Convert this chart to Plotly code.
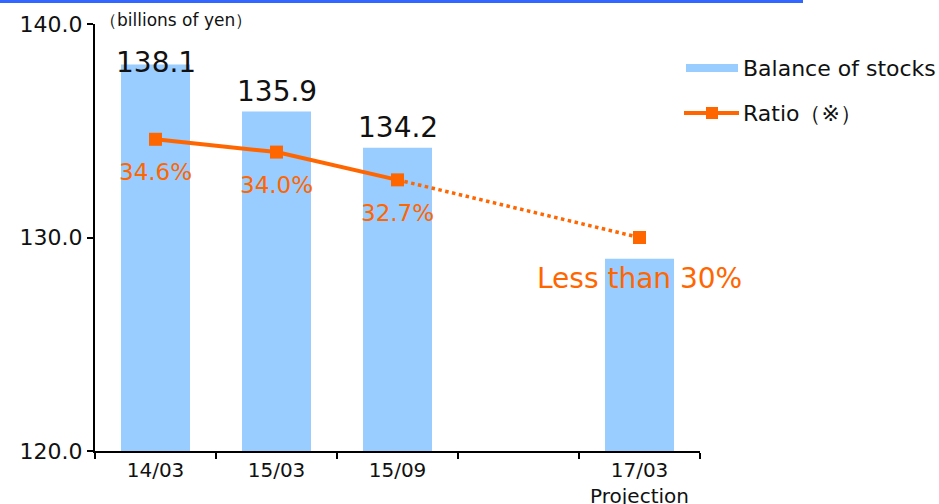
import plotly.graph_objects as go

categories = ["14/03", "15/03", "15/09", " ", "17/03<br>Projection"]
balance = [138.1, 135.9, 134.2, None, 129.0]
balance_labels = ["138.1", "135.9", "134.2", "", ""]
ratio_actual_cats = ["14/03", "15/03", "15/09"]
ratio_actual = [34.6, 34.0, 32.7]
ratio_actual_labels = ["34.6%", "34.0%", "32.7%"]
ratio_proj_cats = ["15/09", "17/03<br>Projection"]
ratio_proj = [32.7, 30.0]
proj_label = "Less than 30%"
legend_names = ["Balance of stocks", "Ratio（※）"]

FONT = "DejaVu Sans"
ORANGE = "#FF6600"
BLUE = "#99CCFF"
TXT = "#111111"

# plot geometry (pixels)
L, R, T, B = 95, 239, 24, 53
PW, PH = 939 - L - R, 504 - T - B
Y0, Y1 = 120, 140
PPU = PH / (Y1 - Y0)


def px_x(px):
    return (px - L) / PW


def px_y(py):
    return (504 - B - py) / PH


fig = go.Figure()
fig.add_trace(go.Bar(
    x=categories, y=balance, name=legend_names[0],
    marker=dict(color=BLUE, line=dict(width=0)), width=0.57,
    showlegend=False, hoverinfo="x+y",
))
fig.add_trace(go.Scatter(
    x=ratio_proj_cats, y=ratio_proj, yaxis="y2", mode="lines",
    line=dict(color=ORANGE, width=3.5, dash="dot"), showlegend=False,
    hoverinfo="skip",
))
fig.add_trace(go.Scatter(
    x=ratio_actual_cats, y=ratio_actual, yaxis="y2", name=legend_names[1],
    mode="lines+markers",
    line=dict(color=ORANGE, width=4),
    marker=dict(symbol="square", size=13, color=ORANGE),
    showlegend=False,
))
fig.add_trace(go.Scatter(
    x=[ratio_proj_cats[-1]], y=[ratio_proj[-1]], yaxis="y2", mode="markers",
    marker=dict(symbol="square", size=13, color=ORANGE), showlegend=False,
))

annotations = []
# bar value labels (kept inside the plot top like the original)
for c, v, lab in zip(categories, balance, balance_labels):
    if not lab:
        continue
    yv = min(v + 20 / PPU, Y1 - 38 / PPU)
    annotations.append(dict(
        x=c, y=yv, xref="x", yref="y", text=lab, showarrow=False,
        yanchor="middle", font=dict(size=28, color=TXT, family=FONT),
    ))
# ratio labels
for c, v, lab in zip(ratio_actual_cats, ratio_actual, ratio_actual_labels):
    annotations.append(dict(
        x=c, y=v, xref="x", yref="y2", text=lab, showarrow=False,
        yanchor="middle", yshift=-33, font=dict(size=23, color=ORANGE, family=FONT),
    ))
annotations.append(dict(
    x=ratio_proj_cats[-1], y=ratio_proj[-1], xref="x", yref="y2", text=proj_label,
    showarrow=False, yanchor="middle", yshift=-41,
    font=dict(size=28, color=ORANGE, family=FONT),
))
# unit label
annotations.append(dict(
    text="（billions of yen）", xref="paper", yref="paper",
    x=px_x(98), y=px_y(20), xanchor="left", yanchor="middle",
    showarrow=False, font=dict(size=17, color=TXT, family=FONT),
))
# manual legend
for name, py in zip(legend_names, [68, 113]):
    annotations.append(dict(
        text=name, xref="paper", yref="paper", x=px_x(741), y=px_y(py),
        xanchor="left", yanchor="middle", showarrow=False,
        font=dict(size=22, color=TXT, family=FONT),
    ))

shapes = [
    dict(type="rect", xref="paper", yref="paper",
         x0=px_x(0), x1=px_x(803), y0=px_y(3), y1=px_y(0),
         fillcolor="#3366FF", line=dict(width=0)),
    dict(type="rect", xref="paper", yref="paper",
         x0=px_x(686), x1=px_x(738), y0=px_y(72), y1=px_y(64),
         fillcolor=BLUE, line=dict(width=0)),
    dict(type="line", xref="paper", yref="paper",
         x0=px_x(684), x1=px_x(739), y0=px_y(113), y1=px_y(113),
         line=dict(color=ORANGE, width=4)),
    dict(type="rect", xref="paper", yref="paper",
         x0=px_x(706), x1=px_x(718), y0=px_y(119), y1=px_y(107),
         fillcolor=ORANGE, line=dict(width=0)),
]

fig.update_layout(
    width=939, height=504,
    margin=dict(l=L, r=R, t=T, b=B),
    paper_bgcolor="white", plot_bgcolor="white",
    font=dict(family=FONT, color=TXT),
    showlegend=False,
    xaxis=dict(
        type="category", categoryorder="array", categoryarray=categories,
        showline=True, linecolor="black", linewidth=2,
        ticks="outside", ticklen=6, tickcolor="black", tickwidth=2,
        tickson="boundaries", showgrid=False, automargin=False,
        tickfont=dict(size=20, color=TXT, family=FONT),
        range=[-0.5, 4.5],
    ),
    yaxis=dict(
        range=[Y0, Y1], dtick=10, tickformat=".1f",
        showline=True, linecolor="black", linewidth=2,
        ticks="outside", ticklen=6, tickcolor="black", tickwidth=2,
        showgrid=False, zeroline=False, automargin=False,
        tickfont=dict(size=22, color=TXT, family=FONT),
    ),
    yaxis2=dict(range=[20, 40], overlaying="y", side="right", visible=False,
                automargin=False),
    annotations=annotations,
    shapes=shapes,
)

fig.write_html("out.html")
